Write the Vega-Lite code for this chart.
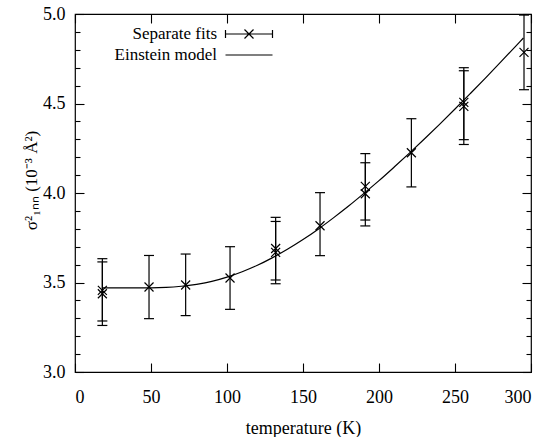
{
  "$schema": "https://vega.github.io/schema/vega-lite/v6.json",
  "width": 456,
  "height": 358,
  "autosize": {"type": "none"},
  "padding": {"left": 75, "top": 14, "right": 18, "bottom": 65},
  "config": {
    "font": "Liberation Serif, Times New Roman, serif",
    "view": {"stroke": "black", "strokeWidth": 1.2},
    "axis": {"grid": false, "domain": false, "ticks": true, "tickColor": "black", "tickWidth": 1.1, "labelColor": "black", "titleColor": "black", "labelFont": "Liberation Serif, Times New Roman, serif", "titleFont": "Liberation Serif, Times New Roman, serif", "titleFontWeight": "normal"},
    "legend": {"labelFontSize": 17, "labelFont": "Liberation Serif, Times New Roman, serif", "labelColor": "black", "labelLimit": 0, "symbolSize": 400, "rowPadding": 2, "padding": 0}
  },
  "datasets": {
    "fits": [
      {"T": 18, "v": 3.456, "lo": 3.285, "hi": 3.633},
      {"T": 18, "v": 3.437, "lo": 3.26, "hi": 3.615},
      {"T": 48.7, "v": 3.475, "lo": 3.298, "hi": 3.651},
      {"T": 72.8, "v": 3.486, "lo": 3.315, "hi": 3.659},
      {"T": 102, "v": 3.525, "lo": 3.35, "hi": 3.7},
      {"T": 132, "v": 3.69, "lo": 3.514, "hi": 3.864},
      {"T": 132, "v": 3.668, "lo": 3.493, "hi": 3.841},
      {"T": 161.2, "v": 3.817, "lo": 3.65, "hi": 4.002},
      {"T": 191, "v": 4.037, "lo": 3.849, "hi": 4.22},
      {"T": 191, "v": 3.996, "lo": 3.816, "hi": 4.169},
      {"T": 221.3, "v": 4.225, "lo": 4.034, "hi": 4.415},
      {"T": 255.8, "v": 4.506, "lo": 4.298, "hi": 4.7},
      {"T": 255.8, "v": 4.484, "lo": 4.271, "hi": 4.683},
      {"T": 295.4, "v": 4.786, "lo": 4.577, "hi": 4.994}
    ],
    "model": [
      {"T": 18, "s": 3.47},
      {"T": 40, "s": 3.47},
      {"T": 60, "s": 3.473},
      {"T": 70, "s": 3.479},
      {"T": 80, "s": 3.49},
      {"T": 90, "s": 3.506},
      {"T": 100, "s": 3.53},
      {"T": 110, "s": 3.56},
      {"T": 120, "s": 3.596},
      {"T": 130, "s": 3.639},
      {"T": 140, "s": 3.687},
      {"T": 150, "s": 3.74},
      {"T": 160, "s": 3.798},
      {"T": 170, "s": 3.861},
      {"T": 180, "s": 3.927},
      {"T": 190, "s": 3.997},
      {"T": 200, "s": 4.069},
      {"T": 210, "s": 4.145},
      {"T": 220, "s": 4.223},
      {"T": 230, "s": 4.303},
      {"T": 240, "s": 4.385},
      {"T": 250, "s": 4.469},
      {"T": 260, "s": 4.555},
      {"T": 270, "s": 4.642},
      {"T": 280, "s": 4.731},
      {"T": 290, "s": 4.821},
      {"T": 295, "s": 4.866}
    ]
  },
  "layer": [
    {
      "data": {"name": "model"},
      "mark": {"type": "line", "color": "black", "strokeWidth": 1.2, "interpolate": "monotone"},
      "encoding": {
        "x": {
          "field": "T", "type": "quantitative",
          "scale": {"domain": [0, 300], "nice": false, "zero": false},
          "axis": {"orient": "bottom", "values": [0, 50, 100, 150, 200, 250, 300], "tickSize": -9, "labelFontSize": 18, "labelPadding": 25, "title": "temperature (K)", "titleFontSize": 18, "titleY": 61, "titleBaseline": "alphabetic"}
        },
        "y": {
          "field": "s", "type": "quantitative",
          "scale": {"domain": [3, 5], "nice": false, "zero": false},
          "axis": {
            "orient": "left",
            "values": [3, 3.1, 3.2, 3.3, 3.4, 3.5, 3.6, 3.7, 3.8, 3.9, 4, 4.1, 4.2, 4.3, 4.4, 4.5, 4.6, 4.7, 4.8, 4.9, 5],
            "tickSize": {"condition": {"test": "abs(datum.value * 2 - round(datum.value * 2)) < 0.001", "value": -9}, "value": -5},
            "labelExpr": "abs(datum.value * 2 - round(datum.value * 2)) < 0.001 ? format(datum.value, '.1f') : ''",
            "labelFontSize": 18, "labelPadding": 19,
            "title": "σ²₁ₙₙ (10⁻³ Å²)", "titleFontSize": 17, "titleX": -44, "titleY": 166, "titleAngle": -90, "titleAlign": "center", "titleBaseline": "middle"
          }
        },
        "color": {
          "datum": "Einstein model",
          "scale": {"domain": ["Separate fits", "Einstein model"], "range": ["black", "black"]},
          "legend": {
            "orient": "none", "legendX": 163, "legendY": 9, "title": null, "padding": 0,
            "labelFontSize": 17, "labelAlign": "right", "labelOffset": -43, "labelLimit": 0,
            "rowPadding": 2, "symbolSize": 400,
            "encode": {
              "labels": {"update": {"fontSize": {"value": 17}}},
              "symbols": {
                "update": {
                  "shape": {"signal": "datum.value === 'Separate fits' ? 'M-2.35,0H2.35M-2.35,-0.4V0.4M2.35,-0.4V0.4M-0.45,-0.45L0.45,0.45M-0.45,0.45L0.45,-0.45' : 'M-2.35,0H2.35'"},
                  "stroke": {"value": "black"},
                  "fill": {"value": "transparent"},
                  "strokeWidth": {"value": 1.2},
                  "size": {"value": 400},
                  "opacity": {"value": 1}
                }
              }
            }
          }
        }
      }
    },
    {
      "data": {"name": "fits"},
      "mark": {"type": "rule", "color": "black", "strokeWidth": 1.2},
      "encoding": {
        "x": {"field": "T", "type": "quantitative", "axis": {"orient": "top", "values": [0, 50, 100, 150, 200, 250, 300], "tickSize": -9, "labels": false, "title": null}},
        "y": {
          "field": "lo", "type": "quantitative",
          "axis": {
            "orient": "right",
            "values": [3, 3.1, 3.2, 3.3, 3.4, 3.5, 3.6, 3.7, 3.8, 3.9, 4, 4.1, 4.2, 4.3, 4.4, 4.5, 4.6, 4.7, 4.8, 4.9, 5],
            "tickSize": {"condition": {"test": "abs(datum.value * 2 - round(datum.value * 2)) < 0.001", "value": -9}, "value": -5},
            "labels": false, "title": null
          }
        },
        "y2": {"field": "hi"}
      }
    },
    {
      "data": {"name": "fits"},
      "mark": {"type": "tick", "orient": "horizontal", "color": "black", "thickness": 1.2, "size": 10, "opacity": 1},
      "encoding": {
        "x": {"field": "T", "type": "quantitative", "axis": null},
        "y": {"field": "lo", "type": "quantitative", "axis": null}
      }
    },
    {
      "data": {"name": "fits"},
      "mark": {"type": "tick", "orient": "horizontal", "color": "black", "thickness": 1.2, "size": 10, "opacity": 1},
      "encoding": {
        "x": {"field": "T", "type": "quantitative", "axis": null},
        "y": {"field": "hi", "type": "quantitative", "axis": null}
      }
    },
    {
      "data": {"name": "fits"},
      "mark": {"type": "point", "shape": "M-1,-1L1,1M-1,1L1,-1", "size": 81, "filled": false, "strokeWidth": 1.2, "opacity": 1},
      "encoding": {
        "x": {"field": "T", "type": "quantitative", "axis": null},
        "y": {"field": "v", "type": "quantitative", "axis": null},
        "color": {"datum": "Separate fits"}
      }
    }
  ],
  "resolve": {"axis": {"x": "independent", "y": "independent"}}
}
